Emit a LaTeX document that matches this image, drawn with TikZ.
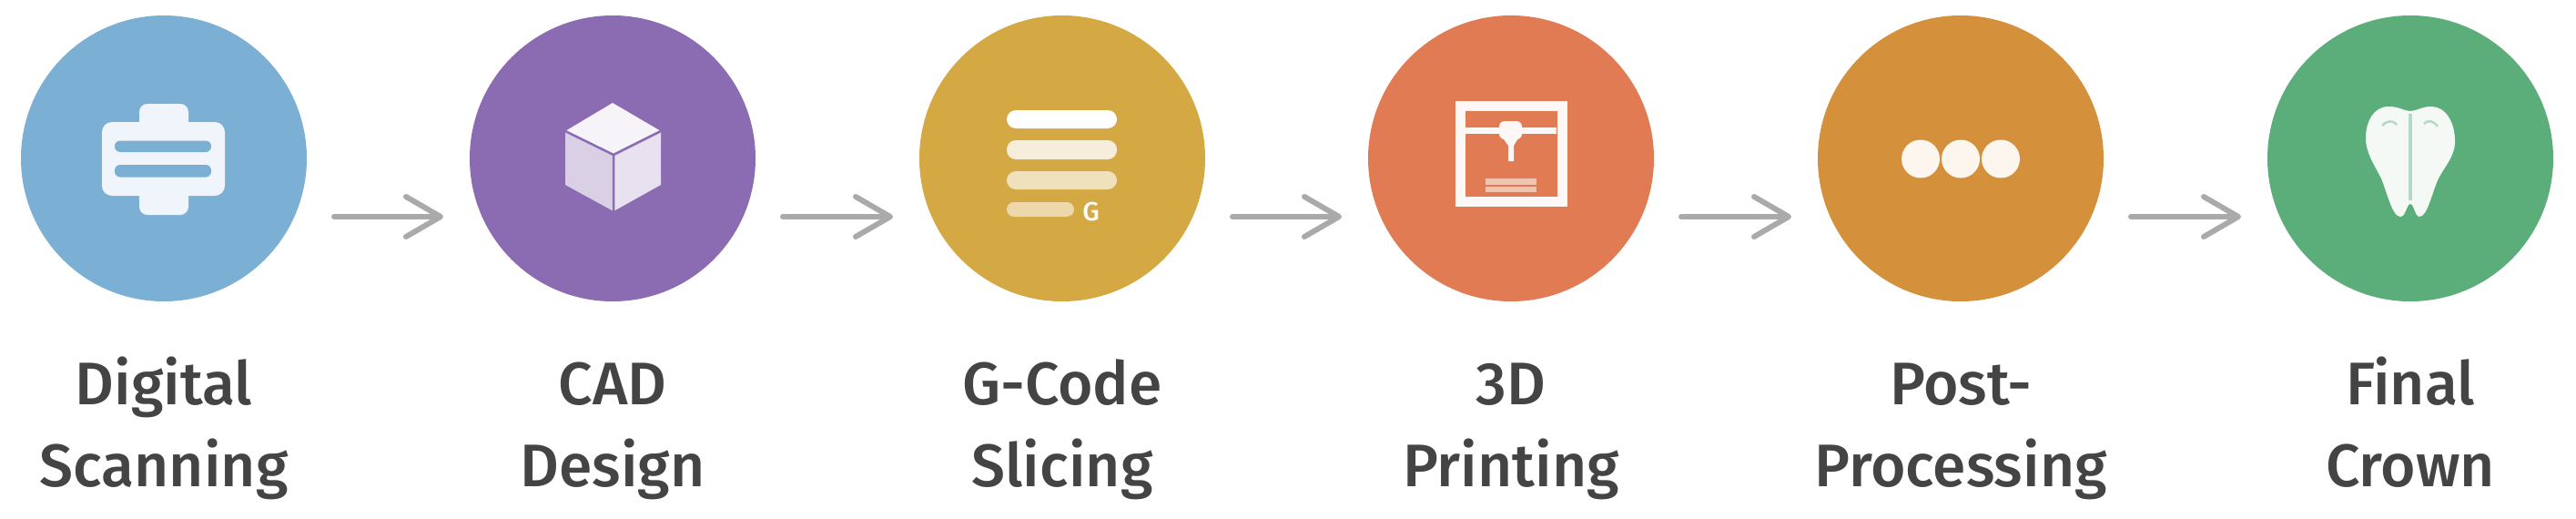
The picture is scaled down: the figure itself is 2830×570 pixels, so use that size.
\documentclass[tikz,border=0pt]{standalone}
\usepackage{fontspec}
\usepackage{xcolor}
\usepackage{tikz}
\usetikzlibrary{arrows.meta}
\setmainfont{Fira Sans}[BoldFont={Fira Sans Medium}]

\definecolor{scanblue}{HTML}{7BAFD4}
\definecolor{cadpurple}{HTML}{8B6BB1}
\definecolor{slicegold}{HTML}{D4A843}
\definecolor{printorange}{HTML}{E07B54}
\definecolor{postamber}{HTML}{D4903A}
\definecolor{crowngreen}{HTML}{5BAD7A}
\definecolor{labelgrey}{HTML}{444444}
\definecolor{flowgrey}{HTML}{AAAAAA}

\tikzset{
    stage/.style={circle,inner sep=0pt,minimum size=314pt},
    stagelabel/.style={align=center,text=labelgrey,inner sep=0pt,text height=140pt,text depth=20pt,font=\fontsize{66}{90}\selectfont\bfseries},
    flow/.style={draw=flowgrey,line width=6pt,line cap=round,-{Straight Barb[length=38pt,width=44pt,round]}}
}

\begin{document}
\begin{tikzpicture}[x=1pt,y=-1pt]
    \useasboundingbox (0,0) rectangle (2830,570);
    %
    \node[stage,fill=scanblue] (scan) at (180,174) {};
    \node[stage,fill=cadpurple] (cad) at (673,174) {};
    \node[stage,fill=slicegold] (slice) at (1167,174) {};
    \node[stage,fill=printorange] (print) at (1660,174) {};
    \node[stage,fill=postamber] (post) at (2154,174) {};
    \node[stage,fill=crowngreen] (crown) at (2648,174) {};

    \node[stagelabel] (scanlabel) at (180,474) {Digital\\Scanning};
    \node[stagelabel] (cadlabel) at (673,474) {CAD\\Design};
    \node[stagelabel] (slicelabel) at (1167,474) {G-Code\\Slicing};
    \node[stagelabel] (printlabel) at (1660,474) {3D\\Printing};
    \node[stagelabel] (postlabel) at (2154,474) {Post-\\Processing};
    \node[stagelabel] (crownlabel) at (2648,474) {Final\\Crown};
    %
    \draw[flow] ([shift={(187,64)}]scan.center) -- ([shift={(-186,64)}]cad.center);
    \draw[flow] ([shift={(187,64)}]cad.center) -- ([shift={(-186,64)}]slice.center);
    \draw[flow] ([shift={(187,64)}]slice.center) -- ([shift={(-186,64)}]print.center);
    \draw[flow] ([shift={(187,64)}]print.center) -- ([shift={(-186,64)}]post.center);
    \draw[flow] ([shift={(187,64)}]post.center) -- ([shift={(-186,64)}]crown.center);
    %
    % scanner
    \fill[scanblue!12!white,rounded corners=9pt] (153,114) rectangle (207,236);
    \fill[scanblue!12!white,rounded corners=11pt] (112,134) rectangle (247,215);
    \fill[scanblue,rounded corners=6pt] (126,154.5) rectangle (232,167);
    \fill[scanblue,rounded corners=6pt] (126,181) rectangle (232,194.5);
    %
    % cube
    \fill[cadpurple!8!white] (673,113) -- (726,144) -- (674,170) -- (621,144) -- cycle;
    \fill[cadpurple!32!white] (621,144) -- (674,170) -- (674,232) -- (621,203) -- cycle;
    \fill[cadpurple!20!white] (726,144) -- (674,170) -- (674,232) -- (726,203) -- cycle;
    \draw[cadpurple,line width=2.5pt] (621,144) -- (674,170) -- (726,144) (674,170) -- (674,232);
    %
    % slices
    \fill[white,rounded corners=10pt] (1106,121) rectangle (1227,141);
    \fill[slicegold!20!white,rounded corners=10pt] (1106,154) rectangle (1227,175);
    \fill[slicegold!35!white,rounded corners=10pt] (1106,188) rectangle (1227,208);
    \fill[slicegold!45!white,rounded corners=8pt] (1106,222) rectangle (1180,238);
    \node[text=white,font=\fontsize{29}{29}\selectfont\bfseries,inner sep=0pt] (gmark) at (1198.5,232) {G};
    %
    % printer
    \draw[printorange!5!white,line width=11pt] (1604.5,116) rectangle (1716,221);
    \fill[printorange!5!white] (1610,140) rectangle (1710,147);
    \fill[printorange!5!white,rounded corners=6pt] (1647,133) rectangle (1672,153);
    \fill[printorange!5!white] (1650,150) -- (1669,150) -- (1663,160) -- (1663,177) -- (1657,177) -- (1657,160) -- cycle;
    \fill[printorange!45!white] (1632,196) rectangle (1688,203);
    \fill[printorange!45!white] (1632,205) rectangle (1688,211);
    %
    % dots
    \fill[postamber!8!white] (2110,174.5) circle (21);
    \fill[postamber!8!white] (2154,174.5) circle (21);
    \fill[postamber!8!white] (2198,174.5) circle (21);
    %
    % tooth
    \fill[crowngreen!7!white] (2648,122) .. controls (2641,122) and (2636,117) .. (2624,117)
        .. controls (2608,117) and (2599,133) .. (2599,152)
        .. controls (2599,168) and (2609,182) .. (2616,196)
        .. controls (2622,210) and (2628,238) .. (2637,238)
        .. controls (2643,238) and (2644,224) .. (2648,224)
        .. controls (2652,224) and (2653,238) .. (2658,238)
        .. controls (2667,238) and (2672,210) .. (2679,196)
        .. controls (2686,182) and (2697,172) .. (2697,155)
        .. controls (2697,133) and (2686,117) .. (2671,117)
        .. controls (2660,117) and (2655,122) .. (2648,122) -- cycle;
    \draw[crowngreen!45!white,line width=4pt] (2648,125) -- (2648,220);
    \draw[crowngreen!45!white,line width=2.5pt] (2617,138) .. controls (2621,133) and (2628,131) .. (2633,137);
    \draw[crowngreen!45!white,line width=2.5pt] (2663,136) .. controls (2668,131) and (2674,133) .. (2678,139);
    %
    \end{tikzpicture}
\end{document}
